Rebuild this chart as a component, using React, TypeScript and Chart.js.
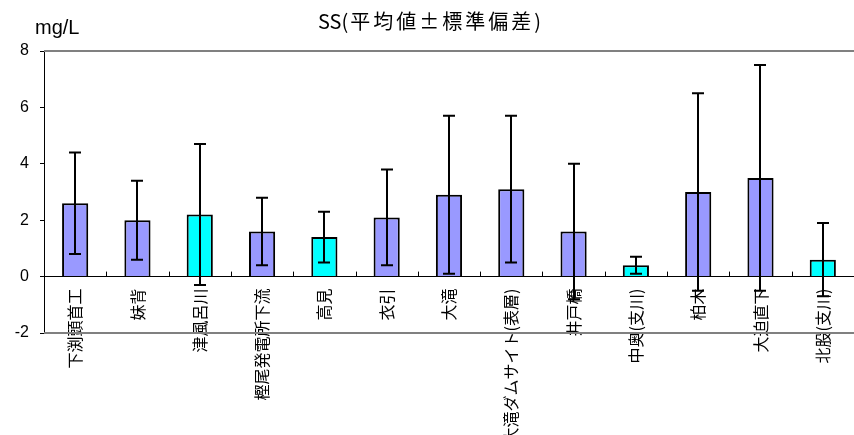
import { useEffect, useRef } from 'react';
import { Chart, registerables } from 'chart.js';

Chart.register(...registerables);

// Monitoring sites along the river (tributaries marked with 支川)
const sites = [
  '下渕頭首工',
  '妹背',
  '津風呂川',
  '樫尾発電所下流',
  '高見',
  '衣引',
  '大滝',
  '大滝ダムサイト(表層)',
  '井戸橋',
  '中奥(支川)',
  '柏木',
  '大迫直下',
  '北股(支川)',
];

// Mean SS concentration (mg/L)
const means = [2.6, 2.0, 2.2, 1.6, 1.4, 2.1, 2.9, 3.1, 1.6, 0.4, 3.0, 3.5, 0.6];

// Standard deviation (mg/L)
const stdDevs = [1.8, 1.4, 2.5, 1.2, 0.9, 1.7, 2.8, 2.6, 2.4, 0.3, 3.5, 4.0, 1.3];

// Sites drawn in the accent colour
const accentSites = [false, false, true, false, true, false, false, false, false, true, false, false, true];

// Value axis ticks
const yTicks = [-2, 0, 2, 4, 6, 8];

const TITLE_LATIN = 'SS(';
const TITLE_JP = '平均値±標準偏差)';
const UNIT = 'mg/L';

const BAR_COLOR = '#9999FF';
const ACCENT_COLOR = '#00FFFF';
const JP_FONT = '"Noto Sans CJK JP", "Noto Sans", sans-serif';
const NUM_FONT = '"Liberation Sans", Arial, sans-serif';

// Grey frame lines at the top and bottom of the plot area
const framePlugin = {
  id: 'plotFrame',
  beforeDatasetsDraw(chart: any) {
    const { ctx, chartArea } = chart;
    ctx.save();
    ctx.strokeStyle = '#808080';
    ctx.lineWidth = 2;
    ctx.beginPath();
    ctx.moveTo(chartArea.left, chartArea.top);
    ctx.lineTo(chartArea.right + 2, chartArea.top);
    ctx.moveTo(chartArea.left, chartArea.bottom);
    ctx.lineTo(chartArea.right + 2, chartArea.bottom);
    ctx.stroke();

    // small upward tick marks on the zero line between categories
    const x = chart.scales.x;
    const y0 = chart.scales.y.getPixelForValue(0);
    ctx.strokeStyle = '#000000';
    ctx.lineWidth = 1;
    ctx.beginPath();
    for (let i = 1; i < sites.length; i++) {
      const px = Math.round(x.getPixelForValue(i - 0.5)) + 0.5;
      ctx.moveTo(px, y0);
      ctx.lineTo(px, y0 - 5);
    }
    ctx.stroke();
    ctx.restore();
  },
};

// Standard-deviation whiskers drawn over each bar
const errorBarPlugin = {
  id: 'errorBars',
  afterDatasetsDraw(chart: any) {
    const { ctx } = chart;
    const yScale = chart.scales.y;
    const meta = chart.getDatasetMeta(0);
    ctx.save();
    ctx.strokeStyle = '#000000';
    ctx.lineWidth = 2;
    meta.data.forEach((bar: any, i: number) => {
      const x = Math.round(bar.x);
      const top = yScale.getPixelForValue(means[i] + stdDevs[i]);
      const bottom = yScale.getPixelForValue(means[i] - stdDevs[i]);
      const half = 6;
      ctx.beginPath();
      ctx.moveTo(x, top);
      ctx.lineTo(x, bottom);
      ctx.moveTo(x - half, top);
      ctx.lineTo(x + half, top);
      ctx.moveTo(x - half, bottom);
      ctx.lineTo(x + half, bottom);
      ctx.stroke();
    });
    ctx.restore();
  },
};

// Chart title and unit label
const headerPlugin = {
  id: 'header',
  afterDraw(chart: any) {
    const { ctx, width } = chart;
    ctx.save();
    ctx.fillStyle = '#000000';
    ctx.textBaseline = 'alphabetic';
    ctx.textAlign = 'left';

    // title: Latin part set tight, Japanese part slightly spaced
    ctx.font = `20px ${JP_FONT}`;
    (ctx as any).letterSpacing = '0px';
    const latinW = ctx.measureText(TITLE_LATIN).width;
    (ctx as any).letterSpacing = '3px';
    const jpW = ctx.measureText(TITLE_JP).width;
    const startX = width / 2 + 4 - (latinW + 2 + jpW) / 2;
    (ctx as any).letterSpacing = '0px';
    ctx.fillText(TITLE_LATIN, startX, 29);
    (ctx as any).letterSpacing = '3px';
    ctx.fillText(TITLE_JP, startX + latinW + 2, 29);

    (ctx as any).letterSpacing = '0px';
    ctx.font = `20px ${NUM_FONT}`;
    ctx.fillText(UNIT, 35, 34);
    ctx.restore();
  },
};

export default function App() {
  const canvasRef = useRef<HTMLCanvasElement | null>(null);

  useEffect(() => {
    const canvas = canvasRef.current;
    if (!canvas) return;

    const chart = new Chart(canvas, {
      type: 'bar',
      data: {
        labels: sites,
        datasets: [
          {
            label: 'SS',
            data: means,
            backgroundColor: accentSites.map((a) => (a ? ACCENT_COLOR : BAR_COLOR)),
            borderColor: '#000000',
            borderWidth: 2,
            barPercentage: 0.42,
            categoryPercentage: 1,
          },
        ],
      },
      options: {
        responsive: false,
        animation: false,
        layout: { padding: { left: 0, right: 0, top: 51, bottom: 102 } },
        plugins: {
          legend: { display: false },
          tooltip: { enabled: false },
          title: { display: false },
        },
        scales: {
          x: {
            position: { y: 0 } as any,
            offset: true,
            grid: { display: false, drawTicks: false },
            border: { display: true, color: '#000000', width: 1 },
            ticks: {
              autoSkip: false,
              minRotation: 90,
              maxRotation: 90,
              padding: 12,
              color: '#000000',
              font: { family: JP_FONT, size: 16 },
            },
          },
          y: {
            min: yTicks[0],
            max: yTicks[yTicks.length - 1],
            afterBuildTicks: (scale: any) => {
              scale.ticks = yTicks.map((v) => ({ value: v }));
            },
            afterFit: (scale: any) => {
              scale.width = 44;
            },
            grid: {
              drawOnChartArea: false,
              drawTicks: true,
              tickLength: 4,
              color: '#000000',
            },
            border: { display: true, color: '#000000', width: 1 },
            ticks: {
              padding: 11,
              color: '#000000',
              font: { family: NUM_FONT, size: 16 },
            },
          },
        },
      },
      plugins: [framePlugin, errorBarPlugin, headerPlugin],
    });

    return () => {
      chart.destroy();
    };
  }, []);

  return (
    <div style={{ position: 'fixed', left: 0, top: 0, width: 854, height: 435, background: '#ffffff' }}>
      <canvas ref={canvasRef} width={854} height={435} />
    </div>
  );
}
